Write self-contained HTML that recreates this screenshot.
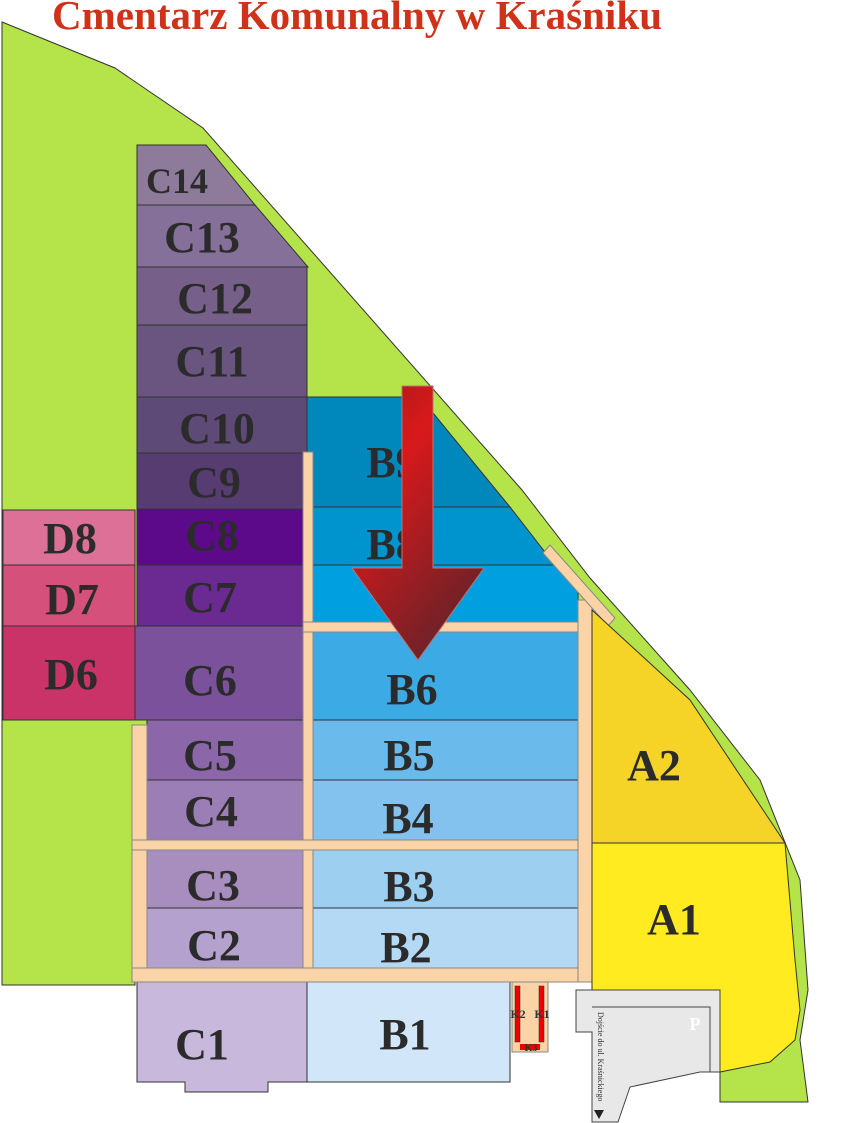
<!DOCTYPE html>
<html><head><meta charset="utf-8"><style>
html,body{margin:0;padding:0;background:#fff;width:852px;height:1123px;overflow:hidden}
svg{display:block}
.l{font-family:"Liberation Serif",serif;font-weight:bold;fill:#2b2b2b;font-size:44px;text-anchor:middle}
</style></head><body>
<svg width="852" height="1123" viewBox="0 0 852 1123" xmlns="http://www.w3.org/2000/svg">
<defs>
<linearGradient id="ag" x1="0" y1="0" x2="0.6" y2="1">
<stop offset="0" stop-color="#a01a1a"/><stop offset="0.35" stop-color="#d8191b"/><stop offset="1" stop-color="#6a2228"/>
</linearGradient>
</defs>
<text x="52" y="29" font-family="Liberation Serif,serif" font-weight="bold" font-size="41" fill="#d03219" textLength="610">Cmentarz Komunalny w Kraśniku</text>
<!-- green -->
<path d="M2,22 L115,68 L203,128 L522,490 L590,578 L690,690 L760,780 L800,880 L808,990 L800,1040 L808,1102 L720,1102 L720,990 L592,990 L592,982 L135,982 L135,985 L2,985 Z" fill="#b5e34a" stroke="#333" stroke-width="1"/>
<!-- C column -->
<path d="M137,145 L206,145 L255,205 L137,205 Z" fill="#8e7a9b" stroke="#333"/>
<path d="M137,205 L255,205 L308,267 L137,267 Z" fill="#85709a" stroke="#333"/>
<rect x="137" y="267" width="170" height="58" fill="#76608a" stroke="#333"/>
<rect x="137" y="325" width="170" height="72" fill="#6a5580" stroke="#333"/>
<rect x="137" y="397" width="170" height="56" fill="#5e4a77" stroke="#333"/>
<rect x="137" y="453" width="166" height="56" fill="#573c72" stroke="#333"/>
<rect x="137" y="509" width="166" height="56" fill="#5d0a8a" stroke="#333"/>
<rect x="137" y="565" width="166" height="61" fill="#6a2a91" stroke="#333"/>
<rect x="135" y="626" width="168" height="94" fill="#7b519b" stroke="#333"/>
<rect x="147" y="720" width="156" height="60" fill="#8b66a8" stroke="#333"/>
<rect x="147" y="780" width="156" height="60" fill="#9c7eb6" stroke="#333"/>
<rect x="147" y="850" width="156" height="58" fill="#a88dbf" stroke="#333"/>
<rect x="147" y="908" width="156" height="60" fill="#b5a1ce" stroke="#333"/>
<path d="M137,982 L307,982 L307,1082 L268,1082 L268,1092 L185,1092 L185,1082 L137,1082 Z" fill="#c8b8dc" stroke="#333"/>
<!-- D -->
<rect x="3" y="510" width="132" height="55" fill="#dd7096" stroke="#333"/>
<rect x="3" y="565" width="132" height="61" fill="#d5507a" stroke="#333"/>
<rect x="3" y="626" width="132" height="94" fill="#c93368" stroke="#333"/>
<!-- B -->
<path d="M307,397 L420,397 L510,507 L307,507 Z" fill="#0088bc" stroke="#333"/>
<path d="M313,507 L510,507 L555,565 L313,565 Z" fill="#0094ce" stroke="#333"/>
<path d="M313,565 L555,565 L578,590 L578,622 L313,622 Z" fill="#009fe0" stroke="#333"/>
<rect x="313" y="632" width="265" height="88" fill="#3caae4" stroke="#333"/>
<rect x="313" y="720" width="265" height="60" fill="#6abaeb" stroke="#333"/>
<rect x="313" y="780" width="265" height="60" fill="#83c2ee" stroke="#333"/>
<rect x="313" y="850" width="265" height="58" fill="#9dcff1" stroke="#333"/>
<rect x="313" y="908" width="265" height="60" fill="#b3d9f5" stroke="#333"/>
<rect x="307" y="982" width="203" height="100" fill="#d1e6f9" stroke="#333"/>
<!-- paths -->
<g fill="#fad3a6" stroke="#888" stroke-width="1">
<rect x="303" y="452" width="10" height="530"/>
<rect x="132" y="725" width="15" height="257"/>
<rect x="132" y="840" width="460" height="10"/>
<rect x="132" y="968" width="460" height="14"/>
<rect x="303" y="622" width="289" height="10"/>
<rect x="578" y="600" width="14" height="382"/>
<path d="M543,553 L550,545 L615,618 L608,626 Z"/>
<rect x="512" y="982" width="36" height="70"/>
</g>
<!-- A -->
<path d="M592,610 L690,700 L785,843 L592,843 Z" fill="#f5d327" stroke="#333"/>
<path d="M592,843 L785,843 L795,960 L800,1010 L795,1040 L770,1062 L720,1072 L720,990 L592,990 Z" fill="#ffeb1f" stroke="#333"/>
<!-- P -->
<path d="M576,990 L720,990 L720,1072 L700,1072 L630,1087 L618,1122 L592,1122 L592,1032 L576,1032 Z" fill="#e8e8e8" stroke="#444"/>
<path d="M592,1007 L710,1007 L710,1072" fill="none" stroke="#444"/>
<text x="695" y="1030" font-family="Liberation Serif,serif" font-weight="bold" font-size="18" fill="#fff" text-anchor="middle">P</text>
<text transform="translate(598,1012) rotate(90)" font-family="Liberation Serif,serif" font-size="8" fill="#333">Dojście do ul. Kraśnickiego</text>
<path d="M594,1110 L604,1110 L599,1119 Z" fill="#222"/>
<!-- K -->
<rect x="515" y="986" width="5" height="56" fill="#e00" stroke="#333" stroke-width=".5"/>
<rect x="539" y="986" width="5" height="56" fill="#e00" stroke="#333" stroke-width=".5"/>
<rect x="520" y="1044" width="20" height="6" fill="#e00"/>
<text x="518" y="1018" font-family="Liberation Serif,serif" font-weight="bold" font-size="12" fill="#333" text-anchor="middle">K2</text>
<text x="542" y="1018" font-family="Liberation Serif,serif" font-weight="bold" font-size="12" fill="#333" text-anchor="middle">K1</text>
<text x="531" y="1051" font-family="Liberation Serif,serif" font-weight="bold" font-size="10" fill="#333" text-anchor="middle">K3</text>
<!-- labels -->
<text class="l" x="177" y="193" style="font-size:36px">C14</text>
<text class="l" x="202" y="252">C13</text>
<text class="l" x="215" y="313">C12</text>
<text class="l" x="212" y="376">C11</text>
<text class="l" x="217" y="443">C10</text>
<text class="l" x="214" y="497">C9</text>
<text class="l" x="212" y="550">C8</text>
<text class="l" x="210" y="612">C7</text>
<text class="l" x="210" y="695">C6</text>
<text class="l" x="210" y="770">C5</text>
<text class="l" x="211" y="826">C4</text>
<text class="l" x="213" y="900">C3</text>
<text class="l" x="214" y="960">C2</text>
<text class="l" x="202" y="1059">C1</text>
<text class="l" x="70" y="553">D8</text>
<text class="l" x="72" y="614">D7</text>
<text class="l" x="71" y="689">D6</text>
<text class="l" x="392" y="477">B9</text>
<text class="l" x="392" y="559">B8</text>
<text class="l" x="412" y="704">B6</text>
<text class="l" x="409" y="770">B5</text>
<text class="l" x="408" y="833">B4</text>
<text class="l" x="409" y="901">B3</text>
<text class="l" x="406" y="962">B2</text>
<text class="l" x="405" y="1049">B1</text>
<text class="l" x="654" y="780">A2</text>
<text class="l" x="674" y="934">A1</text>
<!-- arrow -->
<path d="M402,386 L433,386 L433,568 L484,568 L418,660 L352,568 L402,568 Z" fill="url(#ag)" stroke="#c07070" stroke-width="1"/>
</svg>
</body></html>
